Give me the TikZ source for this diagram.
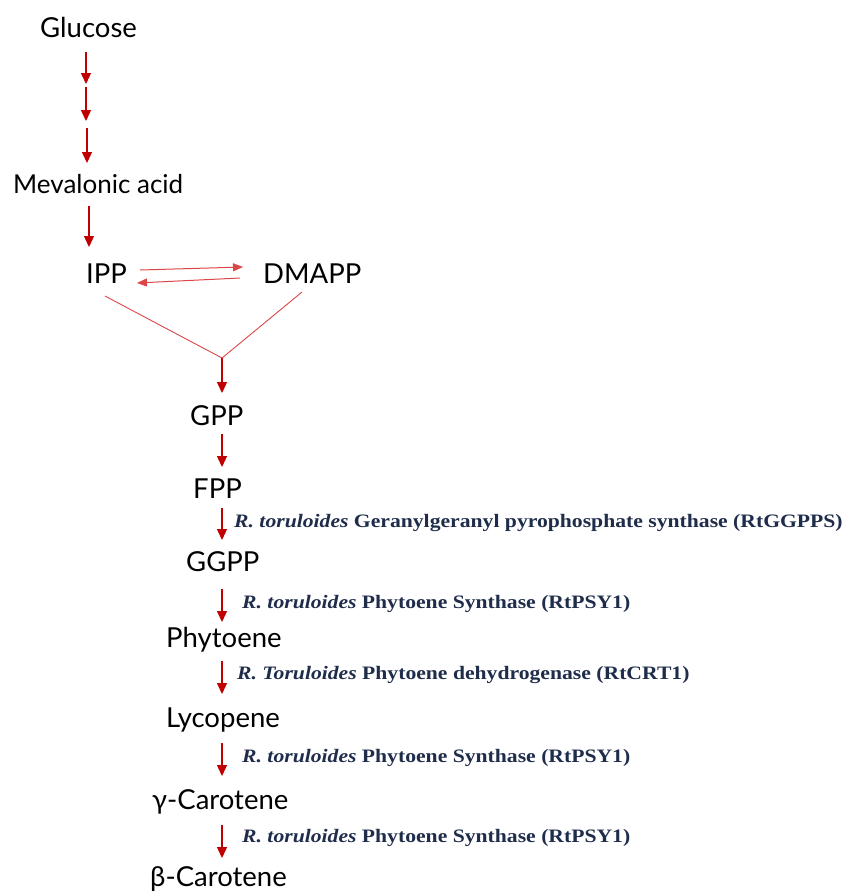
\documentclass[tikz,border=0pt]{standalone}
\usepackage{fontspec}
\setmainfont{Lato}
\newfontfamily\tnr[FakeStretch=1.14]{Liberation Serif}
\usetikzlibrary{arrows.meta}
\definecolor{arrred}{RGB}{192,0,0}
\definecolor{lightred}{RGB}{220,70,70}
\definecolor{navy}{RGB}{31,45,75}
\tikzset{
  x=1pt, y=-1pt,
  mol/.style={anchor=base west, inner sep=0pt, font=\fontsize{27.5}{27.5}\selectfont},
  enz/.style={anchor=base west, inner sep=0pt, text=navy, font=\tnr\bfseries\fontsize{19}{19}\selectfont},
  arr/.style={draw=arrred, line width=1.3pt, -{Triangle[width=10pt,length=11pt]}},
  thinarr/.style={draw=lightred, line width=1pt, -{Triangle[width=8pt,length=10pt]}},
  vline/.style={draw=lightred, line width=0.9pt}
}
\begin{document}
\begin{tikzpicture}
\useasboundingbox (0,0) rectangle (846,892);
% molecules
\node[mol] (glu) at (40,37) {Glucose};
\node[mol, font=\fontsize{26}{26}\selectfont] (mev) at (13,193) {Mevalonic acid};
\node[mol] (ipp) at (86,283) {IPP};
\node[mol] (dma) at (263,283) {DMAPP};
\node[mol] (gpp) at (190,425) {GPP};
\node[mol] (fpp) at (193,498) {FPP};
\node[mol] (ggpp) at (186,571) {GGPP};
\node[mol] (phy) at (166,647) {Phytoene};
\node[mol] (lyc) at (166,727) {Lycopene};
\node[mol] (gam) at (152,809) {γ-Carotene};
\node[mol] (bet) at (150,886) {β-Carotene};
% enzyme labels
\node[enz] (e1) at (234,527) {\itshape R. toruloides\upshape{} Geranylgeranyl pyrophosphate synthase (RtGGPPS)};
\node[enz] (e2) at (242,608) {\itshape R. toruloides\upshape{} Phytoene Synthase (RtPSY1)};
\node[enz] (e3) at (237,679) {\itshape R. Toruloides\upshape{} Phytoene dehydrogenase (RtCRT1)};
\node[enz] (e4) at (242,762) {\itshape R. toruloides\upshape{} Phytoene Synthase (RtPSY1)};
\node[enz] (e5) at (242,842) {\itshape R. toruloides\upshape{} Phytoene Synthase (RtPSY1)};
% arrow end points
\coordinate (g0) at (86,52);
\coordinate (g1) at (86,84);
\coordinate (g1b) at (86,87);
\coordinate (g2) at (86,121);
\coordinate (g2b) at (87,128);
\coordinate (g3) at (87,163);
\coordinate (m0) at (89,206);
\coordinate (m1) at (89,247);
\coordinate (ia) at (140,270);
\coordinate (ib) at (243,267);
\coordinate (da) at (240,278);
\coordinate (db) at (137,283);
\coordinate (vl) at (105,296);
\coordinate (vr) at (302,292);
\coordinate (vj) at (222,358);
\coordinate (vt) at (222,393);
\coordinate (p0) at (222,434);
\coordinate (p1) at (222,467);
\coordinate (f0) at (222,508);
\coordinate (f1) at (222,540);
\coordinate (q0) at (222,589);
\coordinate (q1) at (222,622);
\coordinate (h0) at (222,661);
\coordinate (h1) at (222,694);
\coordinate (l0) at (222,743);
\coordinate (l1) at (222,776);
\coordinate (c0) at (222,825);
\coordinate (c1) at (222,858);
% connectors
\draw[arr] (g0) -- (g1);
\draw[arr] (g1b) -- (g2);
\draw[arr] (g2b) -- (g3);
\draw[arr] (m0) -- (m1);
\draw[thinarr] (ia) -- (ib);
\draw[thinarr] (da) -- (db);
\draw[vline] (vl) -- (vj) -- (vr);
\draw[arr] (vj) -- (vt);
\draw[arr] (p0) -- (p1);
\draw[arr] (f0) -- (f1);
\draw[arr] (q0) -- (q1);
\draw[arr] (h0) -- (h1);
\draw[arr] (l0) -- (l1);
\draw[arr] (c0) -- (c1);
\end{tikzpicture}
\end{document}
